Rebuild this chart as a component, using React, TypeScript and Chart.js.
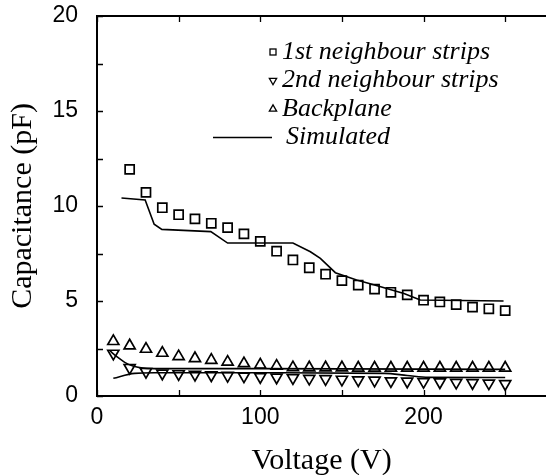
import React, { useEffect, useRef } from 'react';
import { Chart, registerables } from 'chart.js';

Chart.register(...registerables);

// ---- Data ----
const VOLTAGE_ALL = [10, 20, 30, 40, 50, 60, 70, 80, 90, 100, 110, 120, 130, 140, 150, 160, 170, 180, 190, 200, 210, 220, 230, 240, 250];
const VOLTAGE_FIRST = [20, 30, 40, 50, 60, 70, 80, 90, 100, 110, 120, 130, 140, 150, 160, 170, 180, 190, 200, 210, 220, 230, 240, 250];
const FIRST_NEIGHBOUR = [11.93, 10.72, 9.91, 9.54, 9.32, 9.09, 8.86, 8.53, 8.14, 7.62, 7.16, 6.75, 6.41, 6.07, 5.84, 5.63, 5.46, 5.32, 5.04, 4.95, 4.81, 4.68, 4.59, 4.49];
const SECOND_NEIGHBOUR = [2.24, 1.49, 1.28, 1.19, 1.16, 1.13, 1.10, 1.07, 1.04, 1.01, 0.98, 0.95, 0.92, 0.90, 0.87, 0.84, 0.82, 0.79, 0.77, 0.75, 0.73, 0.71, 0.69, 0.67, 0.64];
const BACKPLANE = [2.88, 2.65, 2.47, 2.26, 2.08, 1.98, 1.89, 1.79, 1.71, 1.64, 1.58, 1.50, 1.49, 1.49, 1.49, 1.48, 1.48, 1.48, 1.48, 1.48, 1.48, 1.48, 1.48, 1.48, 1.48];

const SIM_FIRST_V = [15, 29.5, 35, 39.7, 69.7, 80, 120, 130.7, 136.8, 146, 159, 169.5, 188, 198, 249];
const SIM_FIRST = [10.42, 10.32, 9.04, 8.77, 8.65, 8.05, 8.05, 7.59, 7.24, 6.49, 6.11, 5.86, 5.40, 5.05, 5.00];
const SIM_A_V = [8, 12, 17, 22, 27, 35, 100, 250];
const SIM_A = [2.37, 2.08, 1.77, 1.58, 1.48, 1.44, 1.44, 1.40];
const SIM_B_V = [10, 23, 35, 100, 176, 190, 203, 250];
const SIM_B = [0.93, 1.19, 1.22, 1.22, 1.19, 1.08, 0.98, 0.97];

const X_TICKS = [0, 50, 100, 150, 200, 250];
const Y_TICKS = [0, 2.5, 5, 7.5, 10, 12.5, 15, 17.5, 20];

const LEGEND_LABELS = ['1st neighbour strips', '2nd neighbour strips', 'Backplane', 'Simulated'];

const pts = (xs: number[], ys: number[]) => xs.map((x, i) => ({ x, y: ys[i] }));

const SERIF = '"Liberation Serif", "Times New Roman", serif';
const SANS = '"Liberation Sans", Arial, sans-serif';

const framePlugin = {
  id: 'frameTicks',
  afterDatasetsDraw(chart: any) {
    const { ctx, chartArea, scales } = chart;
    const { left, right, top, bottom } = chartArea;
    ctx.save();
    ctx.strokeStyle = '#000';
    ctx.lineWidth = 2;
    ctx.beginPath();
    ctx.moveTo(left - 1, top);
    ctx.lineTo(right, top);
    ctx.stroke();
    ctx.lineWidth = 1.3;
    ctx.beginPath();
    X_TICKS.forEach((v) => {
      const px = Math.round(scales.x.getPixelForValue(v)) + 0.5;
      ctx.moveTo(px, bottom);
      ctx.lineTo(px, bottom - 6);
      ctx.moveTo(px, top);
      ctx.lineTo(px, top + 6);
    });
    Y_TICKS.forEach((v) => {
      const py = Math.round(scales.y.getPixelForValue(v)) + 0.5;
      ctx.moveTo(left, py);
      ctx.lineTo(left + 6, py);
    });
    ctx.stroke();
    ctx.restore();
  },
};

const legendPlugin = {
  id: 'customLegend',
  afterDraw(chart: any) {
    const { ctx } = chart;
    const rowsY = [52, 80.5, 109, 137.5];
    const mx = 273;
    ctx.save();
    ctx.strokeStyle = '#000';
    ctx.fillStyle = '#000';
    ctx.lineWidth = 1.3;
    ctx.strokeRect(mx - 3, rowsY[0] - 3, 6, 6);
    const r = 4.2;
    ctx.beginPath();
    ctx.moveTo(mx, rowsY[1] + r);
    ctx.lineTo(mx - r * 0.866, rowsY[1] - r * 0.5);
    ctx.lineTo(mx + r * 0.866, rowsY[1] - r * 0.5);
    ctx.closePath();
    ctx.stroke();
    ctx.beginPath();
    ctx.moveTo(mx, rowsY[2] - r);
    ctx.lineTo(mx - r * 0.866, rowsY[2] + r * 0.5);
    ctx.lineTo(mx + r * 0.866, rowsY[2] + r * 0.5);
    ctx.closePath();
    ctx.stroke();
    ctx.lineWidth = 1.5;
    ctx.beginPath();
    ctx.moveTo(213, rowsY[3]);
    ctx.lineTo(272, rowsY[3]);
    ctx.stroke();
    ctx.font = 'italic 26px ' + SERIF;
    ctx.textBaseline = 'middle';
    ctx.textAlign = 'left';
    LEGEND_LABELS.forEach((t, i) => {
      ctx.fillText(t, i === 3 ? 286 : 282, rowsY[i]);
    });
    ctx.restore();
  },
};

export default function App() {
  const ref = useRef<HTMLCanvasElement | null>(null);

  useEffect(() => {
    document.body.style.margin = '0';
    if (!ref.current) return;
    const markerCommon = {
      showLine: false,
      borderColor: '#000',
      backgroundColor: 'rgba(0,0,0,0)',
      borderWidth: 1.7,
      pointRadius: 6.4,
      pointHoverRadius: 6.4,
    };
    const lineCommon = {
      showLine: true,
      borderColor: '#000',
      backgroundColor: 'rgba(0,0,0,0)',
      borderWidth: 1.6,
      pointRadius: 0,
      fill: false,
    };
    const chart = new Chart(ref.current, {
      type: 'scatter',
      data: {
        datasets: [
          { ...markerCommon, label: LEGEND_LABELS[0], data: pts(VOLTAGE_FIRST, FIRST_NEIGHBOUR), pointStyle: 'rect' },
          { ...markerCommon, label: LEGEND_LABELS[1], data: pts(VOLTAGE_ALL, SECOND_NEIGHBOUR), pointStyle: 'triangle', rotation: 180 },
          { ...markerCommon, label: LEGEND_LABELS[2], data: pts(VOLTAGE_ALL, BACKPLANE), pointStyle: 'triangle' },
          { ...lineCommon, label: LEGEND_LABELS[3], data: pts(SIM_FIRST_V, SIM_FIRST), tension: 0 },
          { ...lineCommon, label: 'Simulated A', data: pts(SIM_A_V, SIM_A), cubicInterpolationMode: 'monotone' },
          { ...lineCommon, label: 'Simulated B', data: pts(SIM_B_V, SIM_B), cubicInterpolationMode: 'monotone' },
        ] as any,
      },
      options: {
        animation: false,
        responsive: false,
        devicePixelRatio: 1,
        layout: { autoPadding: false, padding: { top: 16, right: 0, left: 0, bottom: 0 } },
        plugins: {
          legend: { display: false },
          tooltip: { enabled: false },
        },
        scales: {
          x: {
            type: 'linear',
            min: 0,
            max: 275,
            afterFit: (s: any) => {
              s.height = 79;
              s.paddingLeft = 0;
              s.paddingRight = 0;
            },
            grid: { display: false, drawTicks: false },
            border: { display: true, color: '#000', width: 2 },
            ticks: {
              stepSize: 50,
              padding: 8,
              color: '#000',
              font: { family: SANS, size: 23 },
              maxRotation: 0,
              autoSkip: false,
              callback: (v: any) => (Number(v) % 100 === 0 ? String(v) : ''),
            },
            title: {
              display: true,
              text: 'Voltage (V)',
              color: '#000',
              font: { family: SERIF, size: 30, lineHeight: 0.95 },
              padding: { top: 0, bottom: 0 },
            },
          },
          y: {
            type: 'linear',
            min: 0,
            max: 20,
            afterFit: (s: any) => {
              s.width = 97;
              s.paddingTop = 0;
              s.paddingBottom = 0;
            },
            grid: { display: false, drawTicks: false },
            border: { display: true, color: '#000', width: 2 },
            ticks: {
              stepSize: 2.5,
              padding: 19,
              color: '#000',
              font: { family: SANS, size: 23 },
              autoSkip: false,
              callback: (v: any) => (Number(v) % 5 === 0 ? String(v) : ''),
            },
            title: {
              display: true,
              text: 'Capacitance (pF)',
              color: '#000',
              font: { family: SERIF, size: 30 },
              padding: { top: 5, bottom: 0 },
            },
          },
        },
      } as any,
      plugins: [framePlugin, legendPlugin],
    });
    return () => chart.destroy();
  }, []);

  return (
    <div style={{ width: 546, height: 475 }}>
      <canvas ref={ref} width={546} height={475} style={{ display: 'block' }} />
    </div>
  );
}
